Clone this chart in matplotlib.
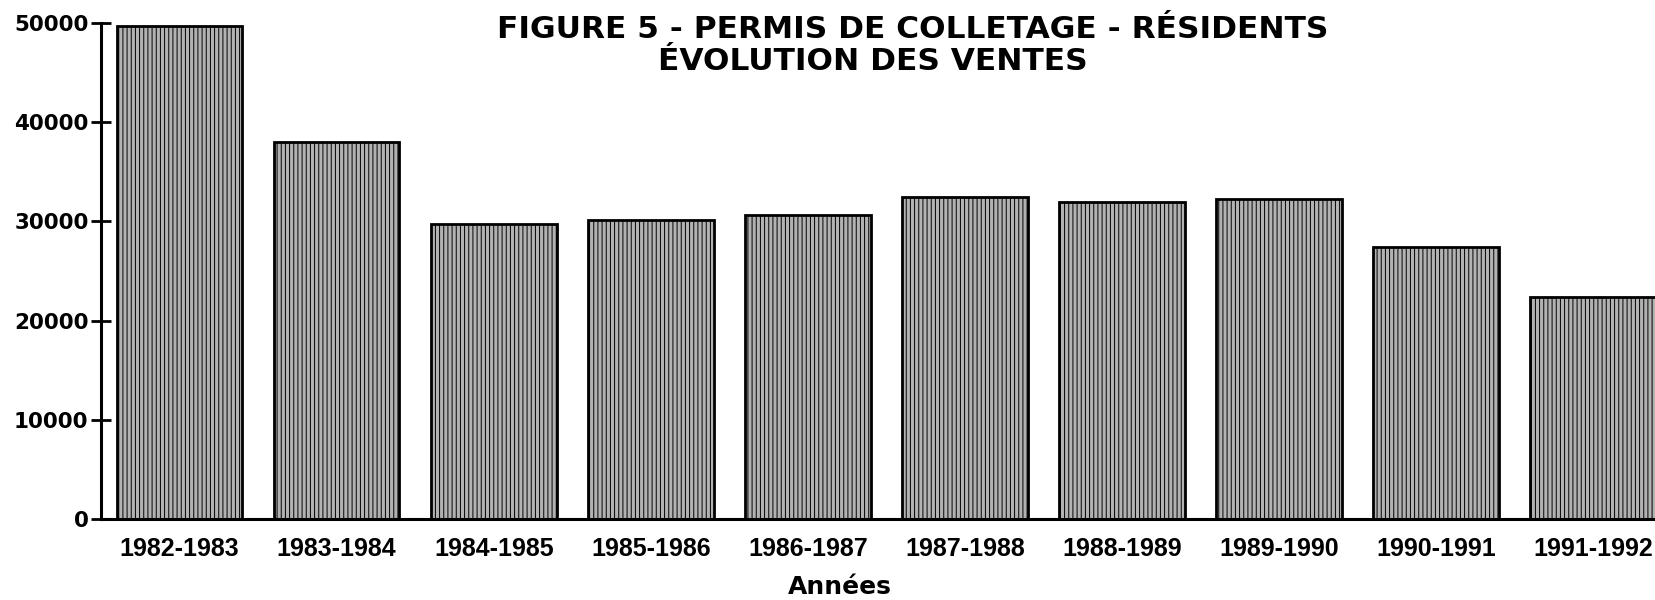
import matplotlib
matplotlib.use('Agg')
import matplotlib.pyplot as plt

# Sales of resident "colletage" permits per season
seasons = ['1982-1983', '1983-1984', '1984-1985', '1985-1986', '1986-1987',
           '1987-1988', '1988-1989', '1989-1990', '1990-1991', '1991-1992']
ventes = [49700, 38000, 29700, 30100, 30600, 32500, 32000, 32300, 27400, 22400]
y_ticks = [0, 10000, 20000, 30000, 40000, 50000]

plt.rcParams['font.family'] = ['Liberation Sans', 'DejaVu Sans']
plt.rcParams['hatch.linewidth'] = 0.7
plt.rcParams['hatch.color'] = '#3a3a3a'

fig = plt.figure(figsize=(16.56, 6), dpi=100)
ax = fig.add_axes([0.061, 0.135, 0.939, 0.8267])

x = range(len(seasons))
ax.bar(x, ventes, width=0.8, color='#b2b2b2', edgecolor='black',
       linewidth=2, hatch='||||')

ax.set_xlim(-0.5, 9.4)
ax.set_ylim(0, 50000)
ax.set_yticks(y_ticks)
ax.set_yticklabels([str(v) for v in y_ticks], fontsize=15.5,
                   fontweight='bold', family='DejaVu Sans')
ax.set_xticks(list(x))
ax.set_xticklabels(seasons, fontsize=18, fontweight='bold')

ax.tick_params(axis='y', direction='inout', length=14, width=2, pad=2)
ax.tick_params(axis='x', length=0, pad=13)

for side in ['top', 'right']:
    ax.spines[side].set_visible(False)
ax.spines['left'].set_linewidth(2.2)
ax.spines['bottom'].set_linewidth(2.2)

title_font = dict(ha='center', va='center', fontsize=22.5,
                  fontweight='bold', family='DejaVu Sans')
fig.text(0.551, 0.95, 'FIGURE 5 - PERMIS DE COLLETAGE - RÉSIDENTS', **title_font)
fig.text(0.527, 0.897, 'ÉVOLUTION DES VENTES', **title_font)
fig.text(0.507, 0.022, 'Années', ha='center', va='center',
         fontsize=18, fontweight='bold', family='DejaVu Sans')

fig.savefig('out.png', dpi=100)
